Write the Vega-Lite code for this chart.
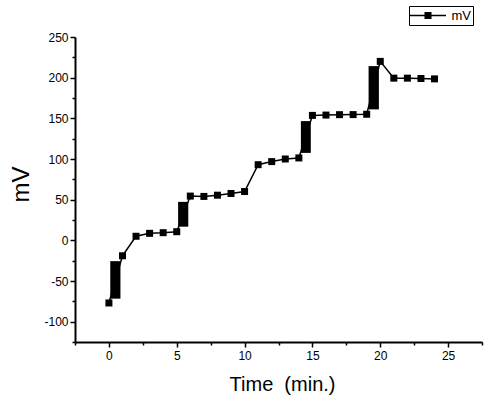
{
  "$schema": "https://vega.github.io/schema/vega-lite/v6.json",
  "width": 407,
  "height": 305,
  "autosize": "none",
  "padding": {"left": 75, "top": 37, "right": 18, "bottom": 62},
  "background": "white",
  "config": {
    "view": {"stroke": null},
    "font": "Liberation Sans",
    "axis": {
      "grid": false,
      "domainColor": "black",
      "domainWidth": 2,
      "tickColor": "black",
      "tickWidth": 1.5,
      "labelColor": "black",
      "labelFont": "Liberation Sans",
      "labelFontSize": 12,
      "titleFont": "Liberation Sans",
      "titleFontWeight": "normal",
      "titleColor": "black"
    }
  },
  "datasets": {
    "points": [
      {"t": 0, "mV": -77}, {"t": 1, "mV": -19}, {"t": 2, "mV": 5}, {"t": 3, "mV": 8.6},
      {"t": 4, "mV": 9.4}, {"t": 5, "mV": 10.6}, {"t": 6, "mV": 54.4}, {"t": 7, "mV": 54},
      {"t": 8, "mV": 55.5}, {"t": 9, "mV": 57.6}, {"t": 10, "mV": 60}, {"t": 11, "mV": 93},
      {"t": 12, "mV": 96.8}, {"t": 13, "mV": 100}, {"t": 14, "mV": 101.3}, {"t": 15, "mV": 153.6},
      {"t": 16, "mV": 154}, {"t": 17, "mV": 154.5}, {"t": 18, "mV": 154.6}, {"t": 19, "mV": 155},
      {"t": 20, "mV": 220}, {"t": 21, "mV": 199.4}, {"t": 22, "mV": 199.4}, {"t": 23, "mV": 199},
      {"t": 24, "mV": 198.5}
    ],
    "bars": [
      {"t1": 0.1, "t2": 0.85, "lo": -71.7, "hi": -25.6},
      {"t1": 5.1, "t2": 5.85, "lo": 16.8, "hi": 47.3},
      {"t1": 14.15, "t2": 14.88, "lo": 107.5, "hi": 146.6},
      {"t1": 19.14, "t2": 19.9, "lo": 161, "hi": 214.2}
    ]
  },
  "resolve": {"axis": {"x": "independent", "y": "independent"}},
  "layer": [
    {
      "data": {"name": "bars"},
      "mark": {"type": "rect", "color": "black"},
      "encoding": {
        "x": {"field": "t1", "type": "quantitative",
          "scale": {"domain": [-2.5, 27.5], "nice": false, "zero": false},
          "axis": {"orient": "bottom", "title": null, "labels": false, "domain": false, "tickSize": 3,
            "values": [-2.5, 2.5, 7.5, 12.5, 17.5, 22.5, 27.5]}},
        "x2": {"field": "t2"},
        "y": {"field": "lo", "type": "quantitative",
          "scale": {"domain": [-125, 250], "nice": false, "zero": false},
          "axis": {"orient": "left", "title": null, "labels": false, "domain": false, "tickSize": 3,
            "values": [-125, -75, -25, 25, 75, 125, 175, 225]}},
        "y2": {"field": "hi"}
      }
    },
    {
      "data": {"name": "points"},
      "mark": {"type": "line", "color": "black", "strokeWidth": 1.5},
      "encoding": {
        "x": {"field": "t", "type": "quantitative",
          "scale": {"domain": [-2.5, 27.5], "nice": false, "zero": false},
          "axis": {"orient": "bottom", "title": "Time\u00a0\u00a0(min.)", "titleFontSize": 20,
            "values": [0, 5, 10, 15, 20, 25], "tickSize": 5, "labelPadding": 3,
            "labelExpr": "'' + datum.value",
            "titleX": 207, "titleY": 48, "titleBaseline": "alphabetic", "titleAlign": "center"}},
        "y": {"field": "mV", "type": "quantitative",
          "scale": {"domain": [-125, 250], "nice": false, "zero": false},
          "axis": {"orient": "left", "title": "mV", "titleFontSize": 24,
            "values": [-100, -50, 0, 50, 100, 150, 200, 250], "tickSize": 5, "labelPadding": 2,
            "labelExpr": "'' + datum.value",
            "titleX": -47, "titleY": 147, "titleBaseline": "alphabetic", "titleAlign": "center", "titleAngle": 270}}
      }
    },
    {
      "data": {"name": "points"},
      "mark": {"type": "square", "filled": true, "size": 49, "opacity": 1},
      "encoding": {
        "x": {"field": "t", "type": "quantitative", "axis": null,
          "scale": {"domain": [-2.5, 27.5], "nice": false, "zero": false}},
        "y": {"field": "mV", "type": "quantitative", "axis": null,
          "scale": {"domain": [-125, 250], "nice": false, "zero": false}},
        "color": {"datum": "mV", "scale": {"range": ["black"]},
          "legend": {"orient": "none", "legendX": 334, "legendY": -31, "title": null,
            "strokeColor": "black", "padding": 2,
            "symbolType": "M-2.4,-0.1H2.4V0.1H-2.4Z M-0.47,-0.47H0.47V0.47H-0.47Z",
            "symbolSize": 225, "symbolOffset": 9.5, "symbolStrokeWidth": 0,
            "labelFontSize": 13, "labelFont": "Liberation Sans", "labelColor": "black", "labelOffset": 16}}
      }
    }
  ]
}
